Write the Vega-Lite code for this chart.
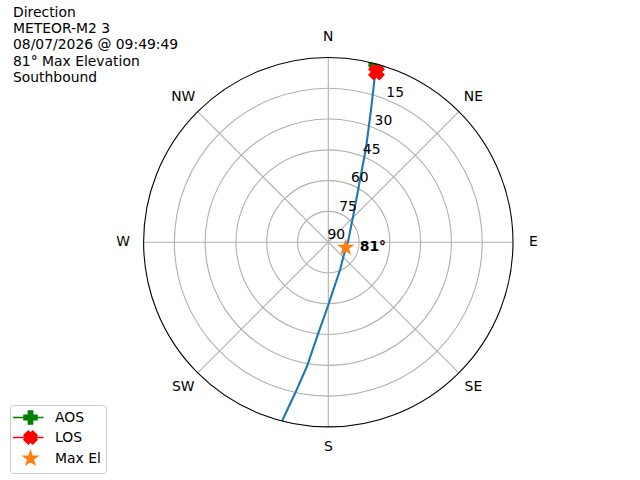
{
  "$schema": "https://vega.github.io/schema/vega-lite/v6.json",
  "width": 640,
  "height": 480,
  "autosize": "none",
  "padding": 0,
  "background": "white",
  "title": {
    "text": ["Direction", "METEOR-M2 3", "08/07/2026 @ 09:49:49", "81° Max Elevation", "Southbound"],
    "anchor": "start",
    "frame": "group",
    "orient": "top",
    "baseline": "top",
    "offset": -85,
    "dx": 13,
    "font": "DejaVu Sans",
    "fontSize": 13.9,
    "fontWeight": "normal",
    "lineHeight": 16.3,
    "color": "#000000"
  },
  "datasets": {
    "rings": [{"r": 15}, {"r": 30}, {"r": 45}, {"r": 60}, {"r": 75}, {"r": 90}],
    "spokes": [{"az": 0}, {"az": 45}, {"az": 90}, {"az": 135}, {"az": 180}, {"az": 225}, {"az": 270}, {"az": 315}],
    "compass": [
      {"label": "N", "az": 0}, {"label": "NE", "az": 45}, {"label": "E", "az": 90}, {"label": "SE", "az": 135},
      {"label": "S", "az": 180}, {"label": "SW", "az": 225}, {"label": "W", "az": 270}, {"label": "NW", "az": 315}
    ],
    "elev": [{"e": 15}, {"e": 30}, {"e": 45}, {"e": 60}, {"e": 75}, {"e": 90}],
    "track": [
      {"t": 1, "el": 0.0, "az": 15.2},
      {"t": 2, "el": 5.4, "az": 15.6},
      {"t": 3, "el": 22.3, "az": 17.9},
      {"t": 4, "el": 40.5, "az": 21.8},
      {"t": 5, "el": 56.0, "az": 27.0},
      {"t": 6, "el": 70.7, "az": 40.4},
      {"t": 7, "el": 80.4, "az": 89.4},
      {"t": 8, "el": 81.1, "az": 107.5},
      {"t": 9, "el": 75.3, "az": 157.2},
      {"t": 10, "el": 66.6, "az": 174.0},
      {"t": 11, "el": 59.4, "az": 180.0},
      {"t": 12, "el": 45.3, "az": 186.3},
      {"t": 13, "el": 28.4, "az": 189.8},
      {"t": 14, "el": 14.6, "az": 192.4},
      {"t": 15, "el": 0.0, "az": 194.5}
    ],
    "events": [
      {"event": "AOS", "el": 0.2, "az": 15.3, "label": ""},
      {"event": "LOS", "el": 3.8, "az": 15.8, "label": ""},
      {"event": "Max El", "el": 81.1, "az": 107.5, "label": "81°"}
    ]
  },
  "layer": [
    {
      "data": {"name": "spokes"},
      "transform": [
        {"calculate": "0", "as": "x"},
        {"calculate": "0", "as": "y"},
        {"calculate": "90 * sin(datum.az * PI / 180)", "as": "x2"},
        {"calculate": "90 * cos(datum.az * PI / 180)", "as": "y2"}
      ],
      "mark": {"type": "rule", "stroke": "#b0b0b0", "strokeWidth": 1.1},
      "encoding": {
        "x": {"field": "x", "type": "quantitative", "scale": {"domain": [-159.99, 151.9], "nice": false, "zero": false}, "axis": null},
        "y": {"field": "y", "type": "quantitative", "scale": {"domain": [-115.89, 118.03], "nice": false, "zero": false}, "axis": null},
        "x2": {"field": "x2"},
        "y2": {"field": "y2"}
      }
    },
    {
      "data": {"name": "rings"},
      "transform": [
        {"filter": "datum.r < 90"},
        {"calculate": "0", "as": "x"},
        {"calculate": "0", "as": "y"}
      ],
      "mark": {"type": "point", "filled": false, "opacity": 1, "strokeWidth": 1.1, "stroke": "#b0b0b0"},
      "encoding": {
        "x": {"field": "x", "type": "quantitative"},
        "y": {"field": "y", "type": "quantitative"},
        "size": {"field": "r", "type": "quantitative", "scale": {"type": "pow", "exponent": 2, "domain": [0, 90], "range": [0, 136456]}, "legend": null}
      }
    },
    {
      "data": {"name": "track"},
      "transform": [
        {"calculate": "(90 - datum.el) * sin(datum.az * PI / 180)", "as": "x"},
        {"calculate": "(90 - datum.el) * cos(datum.az * PI / 180)", "as": "y"}
      ],
      "mark": {"type": "line", "stroke": "#1f77b4", "strokeWidth": 2.1},
      "encoding": {
        "x": {"field": "x", "type": "quantitative"},
        "y": {"field": "y", "type": "quantitative"},
        "order": {"field": "t", "type": "quantitative"}
      }
    },
    {
      "data": {"name": "events"},
      "transform": [
        {"calculate": "(90 - datum.el) * sin(datum.az * PI / 180)", "as": "x"},
        {"calculate": "(90 - datum.el) * cos(datum.az * PI / 180)", "as": "y"}
      ],
      "mark": {"type": "point", "filled": true, "opacity": 1, "size": 289, "strokeWidth": 0},
      "encoding": {
        "x": {"field": "x", "type": "quantitative"},
        "y": {"field": "y", "type": "quantitative"},
        "color": {
          "field": "event", "type": "nominal",
          "scale": {"domain": ["AOS", "LOS", "Max El"], "range": ["#008000", "#ff0000", "#ff7f0e"]},
          "legend": {
            "title": null,
            "orient": "none",
            "legendX": 10,
            "legendY": 405,
            "padding": 5,
            "symbolOffset": 8,
            "labelOffset": 17,
            "rowPadding": 1,
            "symbolSize": 169,
            "symbolStrokeWidth": 1.5,
            "symbolOpacity": 1,
            "labelFont": "DejaVu Sans",
            "labelFontSize": 13.9,
            "labelColor": "#000000",
            "strokeColor": "#cccccc",
            "fillColor": "rgba(255,255,255,0.8)",
            "cornerRadius": 3
          }
        },
        "stroke": {
          "field": "event", "type": "nominal",
          "scale": {"domain": ["AOS", "LOS", "Max El"], "range": ["#008000", "#ff0000", "#ff7f0e"]}
        },
        "shape": {
          "field": "event", "type": "nominal",
          "scale": {
            "domain": ["AOS", "LOS", "Max El"],
            "range": [
              "M-0.33,-1L0.33,-1L0.33,-0.33L1,-0.33L1,0.33L0.33,0.33L0.33,1L-0.33,1L-0.33,0.33L-1,0.33L-1,-0.33L-0.33,-0.33ZM-2.7,0L2.0,0",
              "M-0.333,-1L0,-0.667L0.333,-1L1,-0.333L0.667,0L1,0.333L0.333,1L0,0.667L-0.333,1L-1,0.333L-0.667,0L-1,-0.333ZM-2.7,0L2.0,0",
              "M0,-1.08L0.242,-0.334L1.027,-0.334L0.392,0.127L0.635,0.874L0,0.413L-0.635,0.874L-0.392,0.127L-1.027,-0.334L-0.242,-0.334Z"
            ]
          }
        }
      }
    },
    {
      "data": {"name": "rings"},
      "transform": [
        {"filter": "datum.r == 90"},
        {"calculate": "0", "as": "x"},
        {"calculate": "0", "as": "y"}
      ],
      "mark": {"type": "point", "filled": false, "opacity": 1, "strokeWidth": 20, "stroke": "#ffffff", "size": 152568},
      "encoding": {
        "x": {"field": "x", "type": "quantitative"},
        "y": {"field": "y", "type": "quantitative"}
      }
    },
    {
      "data": {"name": "rings"},
      "transform": [
        {"filter": "datum.r == 90"},
        {"calculate": "0", "as": "x"},
        {"calculate": "0", "as": "y"}
      ],
      "mark": {"type": "point", "filled": false, "opacity": 1, "strokeWidth": 1.1, "stroke": "#000000"},
      "encoding": {
        "x": {"field": "x", "type": "quantitative"},
        "y": {"field": "y", "type": "quantitative"},
        "size": {"field": "r", "type": "quantitative", "legend": null}
      }
    },
    {
      "data": {"name": "events"},
      "transform": [
        {"filter": "datum.label != ''"},
        {"calculate": "(90 - datum.el) * sin(datum.az * PI / 180)", "as": "x"},
        {"calculate": "(90 - datum.el) * cos(datum.az * PI / 180)", "as": "y"}
      ],
      "mark": {"type": "text", "align": "left", "baseline": "middle", "dx": 14, "dy": -1, "font": "DejaVu Sans", "fontSize": 13.9, "fontWeight": "bold", "color": "#000000"},
      "encoding": {
        "x": {"field": "x", "type": "quantitative"},
        "y": {"field": "y", "type": "quantitative"},
        "text": {"field": "label"}
      }
    },
    {
      "data": {"name": "compass"},
      "transform": [
        {"calculate": "100 * sin(datum.az * PI / 180)", "as": "x"},
        {"calculate": "100 * cos(datum.az * PI / 180)", "as": "y"}
      ],
      "mark": {"type": "text", "align": "center", "baseline": "middle", "font": "DejaVu Sans", "fontSize": 13.9, "color": "#000000"},
      "encoding": {
        "x": {"field": "x", "type": "quantitative"},
        "y": {"field": "y", "type": "quantitative"},
        "text": {"field": "label"}
      }
    },
    {
      "data": {"name": "elev"},
      "transform": [
        {"calculate": "(90 - datum.e) * sin(22.5 * PI / 180)", "as": "x"},
        {"calculate": "(90 - datum.e) * cos(22.5 * PI / 180)", "as": "y"}
      ],
      "mark": {"type": "text", "align": "center", "baseline": "middle", "dx": 8, "dy": -7, "font": "DejaVu Sans", "fontSize": 13.9, "color": "#000000"},
      "encoding": {
        "x": {"field": "x", "type": "quantitative"},
        "y": {"field": "y", "type": "quantitative"},
        "text": {"field": "e"}
      }
    }
  ],
  "config": {"view": {"stroke": null}}
}
